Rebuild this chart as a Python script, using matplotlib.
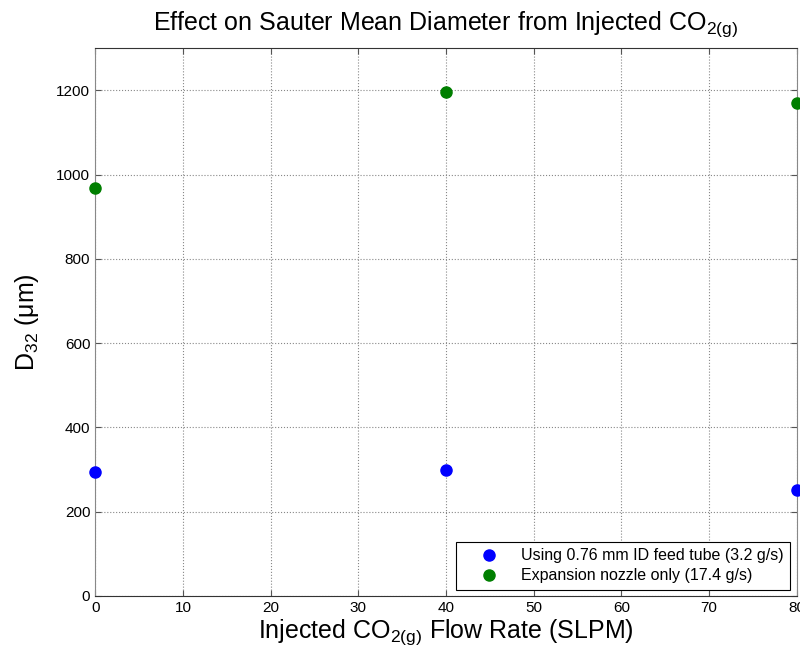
import matplotlib
matplotlib.use("Agg")
import matplotlib.pyplot as plt

plt.rcParams['font.family'] = ['Liberation Sans', 'DejaVu Sans']
plt.rcParams['mathtext.fontset'] = 'custom'
plt.rcParams['mathtext.rm'] = 'Liberation Sans'
plt.rcParams['mathtext.it'] = 'Liberation Sans'
plt.rcParams['mathtext.default'] = 'regular'

flow = [0, 40, 80]
tube = [295, 299, 251]
nozzle = [969, 1195, 1169]
labels = ['Using 0.76 mm ID feed tube (3.2 g/s)', 'Expansion nozzle only (17.4 g/s)']

fig = plt.figure(figsize=(8, 6.59), dpi=100)
ax = fig.add_axes([0.119, 0.0956, 0.877, 0.8314])

ax.plot(flow, tube, 'o', color='#0000ff', markersize=8, label=labels[0], clip_on=False, zorder=3)
ax.plot(flow, nozzle, 'o', color='#007f00', markersize=8, label=labels[1], clip_on=False, zorder=3)

ax.set_xlim(0, 80)
ax.set_ylim(0, 1300)
ax.set_xticks(range(0, 81, 10))
ax.set_yticks(range(0, 1201, 200))
ax.grid(True, linestyle=':', color='#888888', linewidth=0.8)
ax.tick_params(direction='in', top=True, right=True, labelsize=11, length=4, color='#555555')
for s in ax.spines.values():
    s.set_color('#333333')
    s.set_linewidth(0.8)
ax.spines['left'].set_color('#888888')
ax.spines['right'].set_color('#888888')

ax.set_title('Effect on Sauter Mean Diameter from Injected CO$_{2(g)}$', fontsize=18, pad=13)
ax.set_xlabel('Injected CO$_{2(g)}$ Flow Rate (SLPM)', fontsize=18, labelpad=1.5)
ax.set_ylabel('D$_{32}$ (μm)', fontsize=18, labelpad=11)

leg = ax.legend(loc='lower right', fontsize=11.5, fancybox=False, edgecolor='black',
                framealpha=1, borderaxespad=0.4, handlelength=3.3, handletextpad=0.4,
                labelspacing=0.3)
leg.get_frame().set_linewidth(0.8)

fig.savefig('out.png', dpi=100)
